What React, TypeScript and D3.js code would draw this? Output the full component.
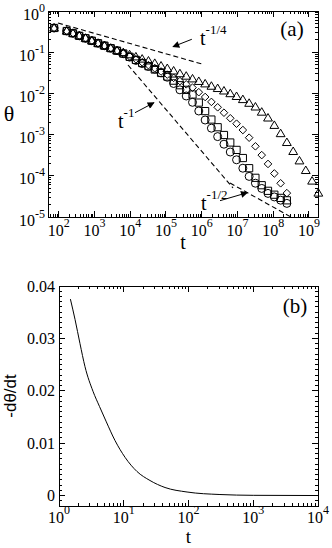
import React from "react";
import * as d3 from "d3";

// ---- panel (a): coverage theta(t) for four runs, shared time grid ----
const times = [
  74, 167, 250, 375, 562, 843, 1260, 1900, 2850, 4270, 6400, 9600, 14400, 21600,
  32400, 48600, 72900, 109000, 164000, 246000, 369000, 554000, 830000, 1250000,
  1870000, 2800000, 4200000, 6310000, 9460000, 1.42e7, 2.13e7, 3.19e7, 4.79e7,
  7.18e7, 1.08e8, 1.62e8, 2.42e8, 3.64e8, 5.45e8, 8.18e8, 1.23e9, 1.84e9,
];

const thetaCircles = [
  0.387, 0.327, 0.288, 0.25, 0.218, 0.19, 0.165, 0.144, 0.125, 0.109, 0.092, 0.076,
  0.063, 0.053, 0.045, 0.039, 0.0315, 0.0247, 0.0174, 0.0122, 0.00865, 0.00608,
  0.00374, 0.00226, 0.00143, 0.000894, 0.000585, 0.000378, 0.000245, 0.000153,
  0.0000967, 0.0000661, 0.0000494, 0.0000374, 0.0000307, 0.0000256, 0.0000214,
];
const thetaSquares = [
  0.387, 0.327, 0.288, 0.25, 0.218, 0.19, 0.165, 0.144, 0.125, 0.109, 0.093, 0.0773,
  0.065, 0.0547, 0.0457, 0.038, 0.0313, 0.0257, 0.0204, 0.0158, 0.0122, 0.0094,
  0.00598, 0.00372, 0.00232, 0.00151, 0.000978, 0.000643, 0.000425, 0.00027,
  0.000153, 0.0000894, 0.0000591, 0.0000432, 0.0000348, 0.0000291, 0.0000254,
];
const thetaDiamonds = [
  0.387, 0.327, 0.288, 0.25, 0.218, 0.19, 0.165, 0.144, 0.125, 0.109, 0.0935, 0.0791,
  0.0673, 0.0569, 0.0484, 0.0407, 0.034, 0.0286, 0.0239, 0.0199, 0.0166, 0.0138,
  0.0107, 0.00818, 0.00622, 0.0046, 0.0034, 0.00249, 0.00184, 0.00129, 0.000841,
  0.00052, 0.000318, 0.000194, 0.000114, 0.0000658, 0.000038,
];
const thetaTriangles = [
  0.387, 0.327, 0.288, 0.25, 0.218, 0.19, 0.165, 0.144, 0.125, 0.109, 0.0983, 0.087,
  0.0773, 0.0684, 0.0615, 0.0538, 0.0465, 0.0404, 0.0352, 0.0302, 0.0263, 0.0226,
  0.0196, 0.0171, 0.015, 0.0132, 0.0115, 0.00989, 0.00846, 0.00711, 0.00578, 0.0047,
  0.00352, 0.00254, 0.00168, 0.00106, 0.000646, 0.000391, 0.000231, 0.000135,
  0.0000748, 0.0000382,
];

// guide lines [t0, theta0, t1, theta1]
const guideQuarter = [95, 0.511, 1.02e6, 0.0517];
const guideOne = [8670, 0.0489, 7.53e6, 0.0000506];
const guideHalf = [6.21e6, 0.0000668, 3.16e8, 0.00001];

// annotations: label position, arrow from -> to (data coords)
const notes = [
  { text: "t", sup: "-1/4", at: [9.0e5, 0.15], from: [5.3e5, 0.206], to: [1.57e5, 0.136] },
  { text: "t", sup: "-1", at: [4550, 0.00145], from: [1.36e4, 0.0034], to: [4.63e4, 0.00595] },
  { text: "t", sup: "-1/2", at: [9.57e5, 0.0000148], from: [3.26e6, 0.0000249], to: [1.89e7, 0.0000389] },
];

const aXExponents = [2, 3, 4, 5, 6, 7, 8, 9];
const aYExponents = [0, -1, -2, -3, -4, -5];

// ---- panel (b): -dtheta/dt ----
const rateTimes = [1.5, 1.77, 2.11, 2.52, 3.35, 4.22, 5.32, 7.33, 10.5, 16, 25.4, 43.4, 95, 306, 1000, 10000];
const rateValues = [0.0375, 0.0336, 0.029, 0.0246, 0.0199, 0.017, 0.0142, 0.0105, 0.00727, 0.00459, 0.00287, 0.00153, 0.00067, 0.00019, 0.00004, 0];

const bXExponents = [0, 1, 2, 3, 4];
const bYTicks = [0, 0.01, 0.02, 0.03, 0.04];

const W = 332;
const H = 548;
const A = { left: 48, right: 318, top: 11, bottom: 217 };
const B = { left: 59, right: 318, top: 286, bottom: 506 };
const SERIF = "Liberation Serif";
const SANS = "Liberation Sans";

type Tick = { v: number; major: boolean };

function logTicks(lo: number, hi: number): Tick[] {
  const out: Tick[] = [];
  for (let e = Math.floor(Math.log10(lo)); e <= Math.ceil(Math.log10(hi)); e++) {
    for (let m = 1; m < 10; m++) {
      const v = m * Math.pow(10, e);
      if (v >= lo * 0.999 && v <= hi * 1.001) out.push({ v, major: m === 1 });
    }
  }
  return out;
}

function Frame({ box, xs, ys, xTicks, yTicks }: any) {
  const lines: any[] = [];
  xTicks.forEach((t: Tick, i: number) => {
    const x = xs(t.v);
    const len = t.major ? 6 : 3;
    lines.push(<line key={"xb" + i} x1={x} x2={x} y1={box.bottom} y2={box.bottom - len} />);
    lines.push(<line key={"xt" + i} x1={x} x2={x} y1={box.top} y2={box.top + len} />);
  });
  yTicks.forEach((t: Tick, i: number) => {
    const y = ys(t.v);
    const len = t.major ? 6 : 3;
    lines.push(<line key={"yl" + i} x1={box.left} x2={box.left + len} y1={y} y2={y} />);
    lines.push(<line key={"yr" + i} x1={box.right} x2={box.right - len} y1={y} y2={y} />);
  });
  return (
    <g stroke="#000" strokeWidth={1} shapeRendering="crispEdges">
      <rect x={box.left} y={box.top} width={box.right - box.left} height={box.bottom - box.top} fill="none" />
      {lines}
    </g>
  );
}

const shapes: Record<string, string> = {
  circle: "M4,0A4,4 0 1,1 -4,0A4,4 0 1,1 4,0Z",
  square: "M-3.6,-3.6H3.6V3.6H-3.6Z",
  diamond: "M0,-3.8L3.8,0L0,3.8L-3.8,0Z",
  triangle: "M0,-4.4L4.4,3.1L-4.4,3.1Z",
};

export default function App() {
  const xa = d3.scaleLog().domain([50, 1.8e9]).range([A.left, A.right]);
  const ya = d3.scaleLog().domain([1e-5, 1]).range([A.bottom, A.top]);
  const xb = d3.scaleLog().domain([1, 1e4]).range([B.left, B.right]);
  const yb = d3.scaleLinear().domain([-0.002, 0.04]).range([B.bottom, B.top]);

  const series = [
    { shape: "circle", vals: thetaCircles },
    { shape: "square", vals: thetaSquares },
    { shape: "diamond", vals: thetaDiamonds },
    { shape: "triangle", vals: thetaTriangles },
  ];

  const bYMinor: Tick[] = d3.range(-2, 41).map((i) => ({ v: i / 1000, major: i % 10 === 0 }));

  const rateLine = d3
    .line<number>()
    .x((_, i) => xb(rateTimes[i]))
    .y((d) => yb(d))
    .curve(d3.curveMonotoneX)(rateValues);

  const guide = (g: number[]) =>
    `M${xa(g[0])},${ya(g[1])}L${xa(g[2])},${ya(g[3])}`;

  return (
    <svg width={W} height={H} style={{ position: "absolute", left: 0, top: 0, background: "#fff" }}
      fontFamily={SERIF}>
      <defs>
        <marker id="head" viewBox="0 0 10 10" refX="9" refY="5" markerWidth="9" markerHeight="7"
          markerUnits="userSpaceOnUse" orient="auto">
          <path d="M0,0L10,5L0,10Z" fill="#000" />
        </marker>
      </defs>

      {/* ---- panel (a) ---- */}
      <Frame box={A} xs={xa} ys={ya} xTicks={logTicks(50, 1.8e9)} yTicks={logTicks(1e-5, 1)} />

      {series.map((s) => (
        <g key={s.shape} fill="none" stroke="#000" strokeWidth={1}>
          {s.vals.map((v, i) => (
            <path key={i} d={shapes[s.shape]} transform={`translate(${xa(times[i])},${ya(v)})`} />
          ))}
        </g>
      ))}

      <g fill="none" stroke="#000" strokeWidth={1.1} strokeDasharray="5,3">
        <path d={guide(guideQuarter)} />
        <path d={guide(guideOne)} />
        <path d={guide(guideHalf)} />
      </g>

      {notes.map((n, i) => (
        <g key={i}>
          <line x1={xa(n.from[0])} y1={ya(n.from[1])} x2={xa(n.to[0])} y2={ya(n.to[1])}
            stroke="#000" strokeWidth={1} markerEnd="url(#head)" />
          <text x={xa(n.at[0])} y={ya(n.at[1])} fontSize={20}>
            {n.text}
            <tspan dy={-11} fontSize={13}>{n.sup}</tspan>
          </text>
        </g>
      ))}

      {aXExponents.map((e) => (
        <text key={e} x={xa(Math.pow(10, e))} y={A.bottom + 18.5} fontSize={16} textAnchor="middle">
          10<tspan dy={-9} fontSize={12}>{e}</tspan>
        </text>
      ))}
      {aYExponents.map((e) => (
        <text key={e} x={A.left - 3} y={ya(Math.pow(10, e)) + 8.5} fontSize={16} textAnchor="end">
          10<tspan dy={-8} fontSize={12}>{e}</tspan>
        </text>
      ))}
      <text x={(A.left + A.right) / 2} y={249} fontSize={20} textAnchor="middle">t</text>
      <text x={9} y={121} fontSize={22} textAnchor="middle">θ</text>
      <text x={292} y={36} fontSize={21} textAnchor="middle">(a)</text>

      {/* ---- panel (b) ---- */}
      <Frame box={B} xs={xb} ys={yb} xTicks={logTicks(1, 1e4)} yTicks={bYMinor} />
      <path d={rateLine ?? ""} fill="none" stroke="#000" strokeWidth={1} />

      {bXExponents.map((e) => (
        <text key={e} x={xb(Math.pow(10, e))} y={B.bottom + 17} fontSize={16} textAnchor="middle">
          10<tspan dy={-9} fontSize={12}>{e}</tspan>
        </text>
      ))}
      {bYTicks.map((v) => (
        <text key={v} x={B.left - 4} y={yb(v) + 5.5} fontSize={16} textAnchor="end">
          {v === 0 ? "0" : v.toFixed(2)}
        </text>
      ))}
      <text x={(B.left + B.right) / 2} y={543} fontSize={19} textAnchor="middle">t</text>
      <text transform="translate(16,396) rotate(-90)" fontFamily={SANS} fontSize={17} textAnchor="middle">
        -dθ/dt
      </text>
      <text x={295} y={313} fontSize={21} textAnchor="middle">(b)</text>
    </svg>
  );
}
